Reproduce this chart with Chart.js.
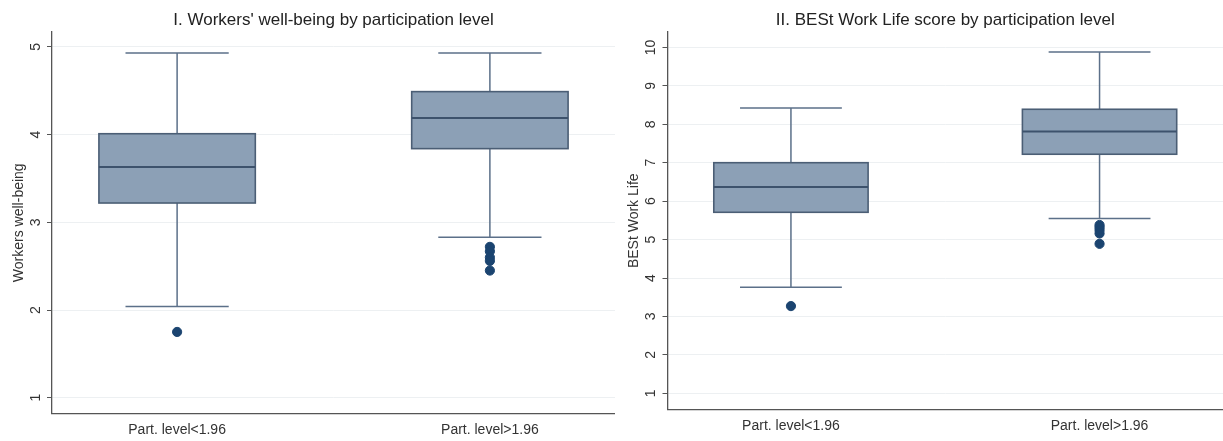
<!DOCTYPE html>
<html>
<head>
<meta charset="utf-8">
<script src="https://cdn.jsdelivr.net/npm/chart.js@4.4.1/dist/chart.umd.min.js"></script>
<style>
  body { margin: 0; background: #fff; }
  #wrap { position: relative; width: 1223px; height: 441px; }
  canvas { position: absolute; top: 0; }
</style>
</head>
<body>
<div id="wrap">
  <canvas id="chartLeft" width="615" height="441" style="left:0"></canvas>
  <canvas id="chartRight" width="608" height="441" style="left:615px"></canvas>
</div>
<script>
// categories
const categories = ['Part. level<1.96', 'Part. level>1.96'];

// I. workers' well-being
const wbTicks = [1, 2, 3, 4, 5];
const wbLow = [2.04, 2.83];
const wbQ1 = [3.22, 3.84];
const wbMedian = [3.63, 4.19];
const wbQ3 = [4.01, 4.49];
const wbHigh = [4.93, 4.93];
const wbOutliers = [[1.75], [2.72, 2.67, 2.6, 2.56, 2.45]];

// II. BESt Work Life
const bestTicks = [1, 2, 3, 4, 5, 6, 7, 8, 9, 10];
const bestLow = [3.76, 5.55];
const bestQ1 = [5.71, 7.22];
const bestMedian = [6.37, 7.81];
const bestQ3 = [7.0, 8.39];
const bestHigh = [8.42, 9.88];
const bestOutliers = [[3.27], [5.38, 5.32, 5.25, 5.16, 4.89]];

const FONT = "'Liberation Sans', Arial, sans-serif";

// box, whiskers, median + rotated tick labels, titles
const boxPlugin = {
    id: 'boxes',
    beforeDatasetsDraw(chart) {
        const s = chart.options.plugins.boxes;
        const x = chart.scales.x, y = chart.scales.y, ctx = chart.ctx;
        ctx.save();
        s.q1.forEach((q1, i) => {
            const cx = x.getPixelForValue(i + 1);
            const bw = x.getPixelForValue(i + 1.25) - cx;
            const cw = x.getPixelForValue(i + 1.165) - cx;
            const pLow = y.getPixelForValue(s.low[i]);
            const pHigh = y.getPixelForValue(s.high[i]);
            const pQ1 = y.getPixelForValue(q1);
            const pQ3 = y.getPixelForValue(s.q3[i]);
            const pMed = y.getPixelForValue(s.median[i]);
            ctx.strokeStyle = '#5c7089';
            ctx.lineWidth = 1.5;
            ctx.beginPath();
            ctx.moveTo(cx, pHigh); ctx.lineTo(cx, pQ3);
            ctx.moveTo(cx, pQ1); ctx.lineTo(cx, pLow);
            ctx.moveTo(cx - cw, pHigh); ctx.lineTo(cx + cw, pHigh);
            ctx.moveTo(cx - cw, pLow); ctx.lineTo(cx + cw, pLow);
            ctx.stroke();
            ctx.fillStyle = '#8ca0b6';
            ctx.fillRect(cx - bw, pQ3, bw * 2, pQ1 - pQ3);
            ctx.strokeStyle = '#4b5e75';
            ctx.lineWidth = 1.6;
            ctx.strokeRect(cx - bw, pQ3, bw * 2, pQ1 - pQ3);
            ctx.strokeStyle = '#3d526c';
            ctx.lineWidth = 2;
            ctx.beginPath();
            ctx.moveTo(cx - bw, pMed); ctx.lineTo(cx + bw, pMed);
            ctx.stroke();
        });
        ctx.restore();
    },
    afterDraw(chart) {
        const s = chart.options.plugins.boxes;
        const y = chart.scales.y, ctx = chart.ctx, area = chart.chartArea;
        ctx.save();
        ctx.fillStyle = '#333';
        ctx.textAlign = 'center';
        ctx.textBaseline = 'middle';
        // tick labels, rotated like Stata
        ctx.font = '14px ' + FONT;
        y.ticks.forEach(t => {
            ctx.save();
            ctx.translate(area.left - 16, y.getPixelForValue(t.value));
            ctx.rotate(-Math.PI / 2);
            ctx.fillText(String(t.value), 0, 0);
            ctx.restore();
        });
        // axis title
        ctx.save();
        ctx.translate(area.left - 33, (area.top + area.bottom) / 2);
        ctx.rotate(-Math.PI / 2);
        ctx.fillText(s.yTitle, 0, 0);
        ctx.restore();
        // chart title
        ctx.fillStyle = '#222';
        ctx.font = '17px ' + FONT;
        ctx.fillText(s.title, (area.left + area.right) / 2, 20);
        ctx.restore();
    }
};

function makeBoxChart(id, o) {
    const points = [];
    o.outliers.forEach((list, i) => list.forEach(v => points.push({ x: i + 1, y: v })));
    return new Chart(document.getElementById(id), {
        type: 'scatter',
        data: {
            datasets: [{
                data: points,
                backgroundColor: '#1b4470',
                borderColor: '#1b4470',
                pointRadius: 4.6,
                pointHoverRadius: 4.6
            }]
        },
        options: {
            responsive: false,
            animation: false,
            devicePixelRatio: 1,
            layout: { autoPadding: false, padding: { top: 32, right: 0, left: 0, bottom: 0 } },
            plugins: {
                legend: { display: false },
                tooltip: { enabled: false },
                boxes: {
                    title: o.title, yTitle: o.yTitle,
                    low: o.low, q1: o.q1, median: o.median, q3: o.q3, high: o.high
                }
            },
            scales: {
                x: {
                    type: 'linear',
                    min: 0.6,
                    max: 2.4,
                    afterBuildTicks: (scale) => { scale.ticks = [{ value: 1 }, { value: 2 }]; },
                    afterFit: (scale) => {
                        scale.height = o.xHeight;
                        scale.paddingLeft = 0;
                        scale.paddingRight = 0;
                    },
                    ticks: {
                        autoSkip: false,
                        padding: 8,
                        color: '#333',
                        font: { family: FONT, size: 14 },
                        callback: (v) => categories[v - 1]
                    },
                    grid: { drawOnChartArea: false, drawTicks: false },
                    border: { color: '#555', width: 1.3 }
                },
                y: {
                    min: o.yMin,
                    max: o.yMax,
                    afterBuildTicks: (scale) => { scale.ticks = o.ticks.map(v => ({ value: v })); },
                    afterFit: (scale) => {
                        scale.width = o.yWidth;
                        scale.paddingTop = 0;
                        scale.paddingBottom = 0;
                    },
                    ticks: { display: false },
                    grid: { color: '#edf0f2', tickColor: '#555', tickLength: 5, lineWidth: 1 },
                    border: { color: '#555', width: 1.3 }
                }
            }
        },
        plugins: [boxPlugin]
    });
}

makeBoxChart('chartLeft', {
    title: "I. Workers' well-being by participation level",
    yTitle: 'Workers well-being',
    ticks: wbTicks, yMin: 0.82, yMax: 5.17,
    low: wbLow, q1: wbQ1, median: wbMedian, q3: wbQ3, high: wbHigh, outliers: wbOutliers,
    yWidth: 52, xHeight: 27.5
});

makeBoxChart('chartRight', {
    title: 'II. BESt Work Life score by participation level',
    yTitle: 'BESt Work Life',
    ticks: bestTicks, yMin: 0.58, yMax: 10.4,
    low: bestLow, q1: bestQ1, median: bestMedian, q3: bestQ3, high: bestHigh, outliers: bestOutliers,
    yWidth: 52.5, xHeight: 31.5
});
</script>
</body>
</html>
